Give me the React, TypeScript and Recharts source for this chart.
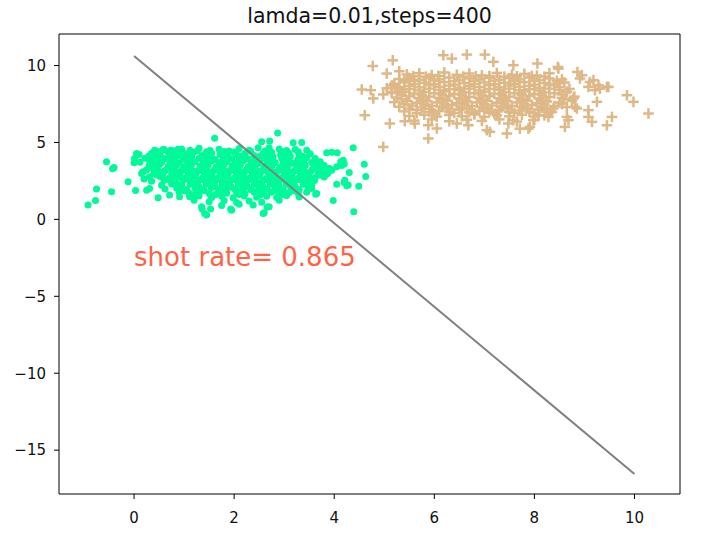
import React from "react";
import {
  ScatterChart,
  Scatter,
  XAxis,
  YAxis,
  ReferenceDot,
  ReferenceLine,
} from "recharts";

// class 0 (green dots): scattered outer points, then the dense body
const greenOuter: [number, number][] = [
  [-0.92, 0.93], [-0.77, 1.23], [-0.75, 1.97], [-0.55, 3.74], [-0.43, 3.29], [-0.4, 3.38],
  [-0.45, 1.79], [-0.12, 2.44], [0.03, 1.88], [0.05, 4.28], [0.0, 3.68], [0.01, 3.96],
  [0.25, 1.9], [0.31, 2.01], [0.48, 1.4], [0.15, 2.99], [0.2, 2.62], [0.18, 3.09],
  [0.31, 2.77], [0.38, 4.18], [0.41, 4.5], [0.58, 4.54], [0.73, 4.5], [0.88, 4.56],
  [0.71, 1.58], [0.91, 1.47], [1.11, 1.47], [1.61, 5.28], [2.87, 5.62], [1.36, 0.67],
  [1.35, 0.82], [1.41, 0.39], [1.45, 0.28], [1.53, 0.67], [1.93, 0.67], [1.95, 0.6],
  [2.6, 0.43], [2.58, 0.39], [2.66, 0.8], [2.38, 0.93], [2.7, 0.82], [4.39, 0.5],
  [3.98, 1.23], [4.38, 4.65], [4.6, 3.59], [4.63, 2.79], [4.49, 2.16], [4.2, 2.39],
  [4.25, 2.18], [4.05, 2.29], [4.15, 3.5], [4.2, 3.6], [4.3, 3.05], [3.85, 4.33],
  [3.95, 4.36], [4.06, 4.33], [3.87, 3.0], [3.95, 3.2], [3.35, 5.0], [3.18, 4.98],
  [3.45, 4.5], [3.63, 1.64], [2.55, 5.04], [2.71, 5.1], [2.7, 4.65], [3.28, 4.39],
  [4.18, 3.85], [4.13, 3.74], [3.91, 3.31], [4.05, 3.42], [4.21, 2.55], [4.28, 2.23],
  [3.65, 1.69], [3.55, 2.0], [3.71, 3.31], [3.68, 2.88], [3.61, 2.55],
];

const greenBody: [number, number][] = [
  [0.42, 4.48], [0.6, 4.55], [0.78, 4.46], [0.95, 4.58], [1.12, 4.5], [1.3, 4.62], [1.52, 4.47], [1.7, 4.56],
  [1.9, 4.44], [2.1, 4.6], [2.3, 4.5], [2.48, 4.66], [2.62, 4.45], [2.9, 4.58], [3.05, 4.47], [3.22, 4.54],
  [0.1, 4.22], [0.35, 4.3], [0.52, 4.18], [0.7, 4.32], [0.86, 4.2], [1.0, 4.28], [1.18, 4.35], [1.36, 4.16],
  [1.55, 4.3], [1.72, 4.22], [1.88, 4.34], [2.05, 4.2], [2.22, 4.3], [2.4, 4.15], [2.58, 4.28], [2.75, 4.36],
  [2.93, 4.2], [3.1, 4.3], [3.3, 4.18], [3.52, 4.26],
  [0.22, 3.98], [0.45, 4.06], [0.62, 3.95], [0.8, 4.02], [0.98, 3.92], [1.15, 4.08], [1.3, 3.97], [1.45, 4.04],
  [1.62, 3.9], [1.78, 4.05], [1.95, 3.96], [2.12, 4.1], [2.28, 3.94], [2.45, 4.03], [2.6, 3.92], [2.78, 4.06],
  [2.95, 3.97], [3.12, 4.08], [3.28, 3.93], [3.45, 4.02], [3.62, 3.95],
  [0.12, 3.72], [0.38, 3.8], [0.55, 3.7], [0.72, 3.78], [0.9, 3.66], [1.05, 3.82], [1.22, 3.74], [1.38, 3.68],
  [1.55, 3.8], [1.7, 3.7], [1.86, 3.77], [2.02, 3.65], [2.18, 3.8], [2.35, 3.72], [2.5, 3.68], [2.66, 3.79],
  [2.82, 3.7], [3.0, 3.76], [3.18, 3.66], [3.35, 3.8], [3.55, 3.7], [3.72, 3.75],
  [0.3, 3.48], [0.5, 3.55], [0.68, 3.44], [0.85, 3.52], [1.0, 3.42], [1.15, 3.58], [1.32, 3.46], [1.48, 3.53],
  [1.64, 3.4], [1.8, 3.56], [1.96, 3.47], [2.12, 3.52], [2.28, 3.42], [2.44, 3.57], [2.6, 3.45], [2.76, 3.5],
  [2.92, 3.4], [3.08, 3.55], [3.25, 3.46], [3.42, 3.52], [3.6, 3.43], [3.8, 3.5],
  [0.25, 3.22], [0.45, 3.3], [0.62, 3.18], [0.8, 3.26], [0.96, 3.2], [1.12, 3.3], [1.28, 3.16], [1.44, 3.27],
  [1.6, 3.2], [1.76, 3.3], [1.92, 3.18], [2.08, 3.26], [2.24, 3.2], [2.4, 3.32], [2.56, 3.17], [2.72, 3.25],
  [2.88, 3.2], [3.04, 3.3], [3.2, 3.15], [3.38, 3.27], [3.55, 3.2], [3.75, 3.25], [3.9, 3.18],
  [0.4, 3.05], [0.58, 2.94], [0.75, 3.02], [0.92, 2.92], [1.08, 3.06], [1.24, 2.96], [1.4, 3.03],
  [1.56, 2.9], [1.72, 3.0], [1.88, 2.95], [2.04, 3.07], [2.2, 2.93], [2.36, 3.02], [2.52, 2.95], [2.68, 3.05],
  [2.84, 2.92], [3.0, 3.0], [3.16, 2.94], [3.32, 3.04], [3.5, 2.96], [3.68, 3.02], [3.85, 2.95],
  [0.52, 2.78], [0.7, 2.68], [0.88, 2.76], [1.04, 2.7], [1.2, 2.8], [1.36, 2.67], [1.52, 2.74],
  [1.68, 2.7], [1.84, 2.8], [2.0, 2.68], [2.16, 2.76], [2.32, 2.7], [2.48, 2.8], [2.64, 2.66], [2.8, 2.74],
  [2.96, 2.7], [3.12, 2.78], [3.28, 2.68], [3.45, 2.75], [3.62, 2.7], [3.8, 2.76],
  [0.35, 2.48], [0.6, 2.54], [0.8, 2.44], [0.98, 2.52], [1.14, 2.45], [1.3, 2.56], [1.46, 2.42], [1.62, 2.5],
  [1.78, 2.46], [1.94, 2.55], [2.1, 2.43], [2.26, 2.52], [2.42, 2.47], [2.58, 2.55], [2.74, 2.42], [2.9, 2.5],
  [3.06, 2.46], [3.22, 2.54], [3.4, 2.44], [3.58, 2.5],
  [0.55, 2.22], [0.75, 2.3], [0.95, 2.2], [1.12, 2.28], [1.28, 2.18], [1.44, 2.3], [1.6, 2.2], [1.76, 2.26],
  [1.92, 2.17], [2.08, 2.3], [2.24, 2.2], [2.4, 2.27], [2.56, 2.18], [2.72, 2.3], [2.88, 2.2], [3.04, 2.26],
  [3.2, 2.18], [3.38, 2.28], [3.55, 2.2],
  [0.62, 1.98], [0.85, 2.04], [1.05, 1.94], [1.22, 2.02], [1.38, 1.95], [1.54, 2.05], [1.7, 1.92], [1.86, 2.0],
  [2.02, 1.95], [2.18, 2.04], [2.34, 1.92], [2.5, 2.0], [2.66, 1.96], [2.82, 2.05], [2.98, 1.93], [3.14, 2.0],
  [3.3, 1.95], [3.48, 2.03],
  [0.9, 1.78], [1.1, 1.7], [1.3, 1.76], [1.5, 1.68], [1.68, 1.78], [1.85, 1.7], [2.05, 1.75],
  [2.22, 1.68], [2.4, 1.78], [2.58, 1.7], [2.75, 1.76], [2.92, 1.68], [3.1, 1.75], [3.28, 1.7], [3.45, 1.76],
  [1.3, 1.52], [1.55, 1.42], [1.75, 1.5], [1.98, 1.4], [2.2, 1.52], [2.45, 1.44], [2.65, 1.5],
  [2.85, 1.42], [3.05, 1.55], [3.3, 1.46],
  [1.2, 1.25], [1.5, 1.15], [1.8, 1.22], [2.05, 1.1], [2.3, 1.2], [2.55, 1.12], [2.9, 1.25],
  [1.75, 0.9], [2.1, 0.98],
];

// extra green points sitting between the body rows
const greenFill: [number, number][] = [
  [0.5, 4.4], [0.68, 4.42], [0.94, 4.38], [1.26, 4.44], [1.45, 4.4], [1.8, 4.41], [2.0, 4.38], [2.33, 4.43],
  [2.68, 4.4], [3.0, 4.42],
  [0.3, 4.14], [0.72, 4.1], [0.9, 4.15], [1.08, 4.12], [1.38, 4.1], [1.53, 4.16], [1.86, 4.12], [2.2, 4.14],
  [2.52, 4.1], [2.68, 4.16], [3.02, 4.12], [3.36, 4.1],
  [0.3, 3.86], [0.48, 3.9], [0.82, 3.88], [1.13, 3.86], [1.47, 3.9], [1.78, 3.85], [2.1, 3.9], [2.42, 3.86],
  [2.74, 3.9], [3.08, 3.86], [3.4, 3.9],
  [0.4, 3.6], [0.78, 3.64], [1.1, 3.62], [1.4, 3.6], [1.72, 3.65], [2.05, 3.6], [2.36, 3.64], [2.68, 3.6],
  [2.98, 3.63], [3.3, 3.6], [3.65, 3.62],
  [0.35, 3.38], [0.72, 3.35], [1.05, 3.38], [1.38, 3.36], [1.7, 3.38], [2.02, 3.35], [2.34, 3.38], [2.66, 3.36],
  [2.98, 3.38], [3.3, 3.35], [3.66, 3.37],
  [0.5, 3.12], [0.85, 3.1], [1.18, 3.14], [1.5, 3.1], [1.82, 3.13], [2.14, 3.1], [2.46, 3.14], [2.78, 3.1],
  [3.1, 3.12], [3.42, 3.1], [3.78, 3.12],
  [0.45, 2.88], [0.8, 2.85], [1.12, 2.88], [1.44, 2.86], [1.76, 2.88], [2.08, 2.85], [2.4, 2.88], [2.72, 2.86],
  [3.04, 2.88], [3.36, 2.85], [3.72, 2.88],
  [0.7, 2.6], [1.06, 2.63], [1.38, 2.6], [1.7, 2.62], [2.02, 2.6], [2.34, 2.63], [2.66, 2.6], [2.98, 2.62],
  [3.3, 2.6], [3.5, 2.62],
  [0.85, 2.36], [1.2, 2.38], [1.52, 2.35], [1.84, 2.38], [2.16, 2.36], [2.48, 2.38], [2.8, 2.35], [3.12, 2.38],
  [3.46, 2.36],
  [0.9, 2.12], [1.3, 2.1], [1.62, 2.13], [1.94, 2.1], [2.26, 2.12], [2.58, 2.1], [2.9, 2.13], [3.22, 2.1],
  [1.0, 1.86], [1.4, 1.88], [1.78, 1.85], [2.12, 1.88], [2.48, 1.86], [2.84, 1.88], [3.2, 1.86],
  [1.2, 1.62], [1.62, 1.6], [2.1, 1.62], [2.52, 1.6], [2.98, 1.62],
];

// class 1 (tan crosses)
const tanOuter: [number, number][] = [
  [4.77, 9.97], [5.17, 10.34], [5.05, 9.48], [5.3, 9.63], [4.55, 8.44], [4.73, 8.4], [4.78, 7.86],
  [4.98, 8.12], [5.15, 8.29], [4.61, 6.77], [5.11, 6.23], [5.41, 6.38], [5.61, 6.23], [5.88, 6.12],
  [6.05, 5.91], [5.88, 5.26], [4.98, 4.71], [6.18, 10.67], [6.35, 10.45], [6.65, 10.71], [7.01, 10.71],
  [7.18, 10.24], [5.25, 8.51], [5.38, 8.29], [5.51, 9.05], [7.11, 5.69], [7.45, 5.58], [6.45, 6.23],
  [6.68, 6.12], [7.58, 10.02], [8.06, 10.13], [8.48, 9.8], [8.47, 9.91], [8.86, 9.58], [8.95, 9.37],
  [8.91, 9.16], [9.11, 8.93], [9.18, 9.05], [9.28, 8.72], [9.45, 8.61], [9.48, 8.61], [9.08, 8.61],
  [9.21, 8.4], [9.31, 8.5], [9.85, 8.07], [9.98, 7.64], [10.28, 6.88], [9.55, 6.66], [9.45, 6.12],
  [9.25, 7.64], [9.08, 7.1], [9.08, 6.66], [9.15, 6.34], [8.78, 7.86], [8.85, 7.21], [8.81, 7.31],
  [8.65, 6.66], [8.68, 6.45], [8.61, 6.01], [8.31, 6.99], [8.38, 7.21], [8.28, 6.66], [7.91, 6.01],
  [7.71, 5.9], [7.88, 5.9], [7.98, 6.45], [8.08, 6.77], [7.58, 6.45], [7.48, 6.23], [7.05, 5.8],
];

const tanBody: [number, number][] = [
  [5.45, 9.42], [5.7, 9.5], [5.95, 9.38], [6.2, 9.55], [6.45, 9.4], [6.7, 9.48], [6.95, 9.36], [7.25, 9.52],
  [7.55, 9.4], [7.8, 9.46], [8.05, 9.35], [8.3, 9.5],
  [5.3, 9.12], [5.5, 9.2], [5.7, 9.08], [5.9, 9.18], [6.1, 9.1], [6.3, 9.22], [6.5, 9.06], [6.7, 9.16],
  [6.9, 9.1], [7.1, 9.2], [7.3, 9.08], [7.5, 9.18], [7.7, 9.1], [7.9, 9.22], [8.1, 9.06], [8.3, 9.16], [8.55, 9.1],
  [5.2, 8.82], [5.4, 8.9], [5.6, 8.78], [5.8, 8.88], [6.0, 8.8], [6.2, 8.92], [6.4, 8.76], [6.6, 8.86],
  [6.8, 8.8], [7.0, 8.9], [7.2, 8.78], [7.4, 8.88], [7.6, 8.8], [7.8, 8.92], [8.0, 8.76], [8.2, 8.86],
  [8.4, 8.8], [8.6, 8.9],
  [5.05, 8.52], [5.3, 8.6], [5.5, 8.48], [5.7, 8.58], [5.9, 8.5], [6.1, 8.62], [6.3, 8.46], [6.5, 8.56],
  [6.7, 8.5], [6.9, 8.6], [7.1, 8.48], [7.3, 8.58], [7.5, 8.5], [7.7, 8.62], [7.9, 8.46], [8.1, 8.56],
  [8.3, 8.5], [8.5, 8.6], [8.7, 8.48],
  [5.15, 8.22], [5.4, 8.3], [5.6, 8.18], [5.8, 8.28], [6.0, 8.2], [6.2, 8.32], [6.4, 8.16], [6.6, 8.26],
  [6.8, 8.2], [7.0, 8.3], [7.2, 8.18], [7.4, 8.28], [7.6, 8.2], [7.8, 8.32], [8.0, 8.16], [8.2, 8.26],
  [8.4, 8.2], [8.65, 8.3],
  [5.25, 7.92], [5.5, 8.0], [5.7, 7.88], [5.9, 7.98], [6.1, 7.9], [6.3, 8.02], [6.5, 7.86], [6.7, 7.96],
  [6.9, 7.9], [7.1, 8.0], [7.3, 7.88], [7.5, 7.98], [7.7, 7.9], [7.9, 8.02], [8.1, 7.86], [8.3, 7.96],
  [8.55, 7.9], [8.8, 7.98],
  [5.2, 7.62], [5.45, 7.7], [5.65, 7.58], [5.85, 7.68], [6.05, 7.6], [6.25, 7.72], [6.45, 7.56], [6.65, 7.66],
  [6.85, 7.6], [7.05, 7.7], [7.25, 7.58], [7.45, 7.68], [7.65, 7.6], [7.85, 7.72], [8.05, 7.56], [8.25, 7.66],
  [8.5, 7.6], [8.75, 7.7],
  [5.3, 7.32], [5.55, 7.4], [5.75, 7.28], [5.95, 7.38], [6.15, 7.3], [6.35, 7.42], [6.55, 7.26], [6.75, 7.36],
  [6.95, 7.3], [7.15, 7.4], [7.35, 7.28], [7.55, 7.38], [7.75, 7.3], [7.95, 7.42], [8.15, 7.26], [8.4, 7.36],
  [8.65, 7.3],
  [5.4, 7.02], [5.65, 7.1], [5.9, 6.98], [6.1, 7.08], [6.3, 7.0], [6.5, 7.12], [6.7, 6.96], [6.9, 7.06],
  [7.1, 7.0], [7.3, 7.1], [7.5, 6.98], [7.7, 7.08], [7.9, 7.0], [8.1, 7.1], [8.35, 6.98],
  [5.5, 6.72], [5.8, 6.8], [6.05, 6.68], [6.3, 6.78], [6.55, 6.7], [6.8, 6.82], [7.0, 6.66], [7.25, 6.76],
  [7.5, 6.7], [7.75, 6.8], [8.0, 6.68], [8.2, 6.76],
  [5.6, 6.42], [5.95, 6.5], [6.3, 6.38], [6.65, 6.48], [6.95, 6.4], [7.3, 6.5], [7.65, 6.36], [8.0, 6.46],
];

// extra tan points between the body rows
const tanFill: [number, number][] = [
  [5.58, 9.3], [5.83, 9.28], [6.08, 9.32], [6.58, 9.28], [6.83, 9.3], [7.1, 9.32], [7.4, 9.28], [7.65, 9.3],
  [7.95, 9.32], [8.2, 9.28],
  [5.4, 9.0], [5.6, 8.98], [6.0, 9.02], [6.4, 8.98], [6.8, 9.0], [7.2, 9.02], [7.6, 8.98], [8.0, 9.0], [8.45, 9.0],
  [5.15, 8.7], [5.5, 8.68], [5.9, 8.72], [6.3, 8.7], [6.7, 8.68], [7.1, 8.72], [7.5, 8.7], [7.9, 8.68], [8.3, 8.72],
  [5.3, 8.4], [5.7, 8.38], [6.1, 8.42], [6.5, 8.4], [6.9, 8.38], [7.3, 8.42], [7.7, 8.4], [8.1, 8.38], [8.5, 8.42],
  [5.35, 8.1], [5.75, 8.08], [6.15, 8.12], [6.55, 8.1], [6.95, 8.08], [7.35, 8.12], [7.75, 8.1], [8.15, 8.08],
  [8.55, 8.12],
  [5.35, 7.8], [5.75, 7.78], [6.15, 7.82], [6.55, 7.8], [6.95, 7.78], [7.35, 7.82], [7.75, 7.8], [8.15, 7.78],
  [8.6, 7.82],
  [5.4, 7.5], [5.8, 7.48], [6.2, 7.52], [6.6, 7.5], [7.0, 7.48], [7.4, 7.52], [7.8, 7.5], [8.2, 7.48], [8.55, 7.5],
  [5.5, 7.2], [5.9, 7.18], [6.25, 7.22], [6.65, 7.2], [7.05, 7.18], [7.45, 7.22], [7.85, 7.2], [8.25, 7.18],
  [5.65, 6.9], [6.0, 6.88], [6.4, 6.92], [6.8, 6.9], [7.2, 6.88], [7.6, 6.92], [8.0, 6.9],
];

// fitted decision boundary, end points
const boundaryX = [0, 10];
const boundaryY = [10.62, -16.55];

const xTicks = [0, 2, 4, 6, 8, 10];
const yTicks = [-15, -10, -5, 0, 5, 10];
const xDomain = [-1.5, 10.91];
const yDomain = [-17.85, 12.05];

const title = "lamda=0.01,steps=400";
const shotRate = 0.865;

const toPoints = (arr: [number, number][]) => arr.map(([x, y]) => ({ x, y }));
const greenData = toPoints([...greenOuter, ...greenBody, ...greenFill]);
const tanData = toPoints([...tanOuter, ...tanBody, ...tanFill]);
const lineData = boundaryX.map((x, i) => ({ x, y: boundaryY[i] }));

const FONT = "'DejaVu Sans', sans-serif";
const GREEN = "#00fa9a";
const TAN = "#deb887";

const minusFmt = (v: number) => (v < 0 ? `\u2212${Math.abs(v)}` : String(v));

const Dot = (p: any) => <circle cx={p.cx} cy={p.cy} r={3.5} fill={GREEN} />;

const Cross = (p: any) => (
  <g stroke={TAN} strokeWidth={2.5}>
    <line x1={p.cx - 5.3} x2={p.cx + 5.3} y1={p.cy} y2={p.cy} />
    <line x1={p.cx} x2={p.cx} y1={p.cy - 5.3} y2={p.cy + 5.3} />
  </g>
);

const tickStyle = { fontFamily: FONT, fontSize: 15, fill: "#111" };

export default function App() {
  return (
    <div style={{ position: "absolute", left: 0, top: 0, width: 706, height: 539, background: "#fff" }}>
      <svg width={706} height={34} style={{ position: "absolute", left: 0, top: 0 }}>
        <text x={369.5} y={22.5} textAnchor="middle" fontFamily={FONT} fontSize={20.5} fill="#111">
          {title}
        </text>
      </svg>
      <ScatterChart width={706} height={539} margin={{ top: 34, right: 26, bottom: 0, left: 0 }}>
        <XAxis
          type="number"
          dataKey="x"
          domain={xDomain}
          ticks={xTicks}
          allowDataOverflow
          height={45}
          stroke="#000"
          tickSize={5}
          tickMargin={13}
          tick={tickStyle}
        />
        <YAxis
          type="number"
          dataKey="y"
          domain={yDomain}
          ticks={yTicks}
          allowDataOverflow
          width={59}
          stroke="#000"
          tickSize={5}
          tickMargin={8}
          tick={tickStyle}
          tickFormatter={minusFmt}
        />
        <ReferenceLine y={yDomain[1]} stroke="#000" strokeWidth={1} />
        <ReferenceLine x={xDomain[1]} stroke="#000" strokeWidth={1} />
        <Scatter data={greenData} shape={Dot} isAnimationActive={false} />
        <Scatter data={tanData} shape={Cross} isAnimationActive={false} />
        <Scatter
          data={lineData}
          line={{ stroke: "#808080", strokeWidth: 2 }}
          shape={() => <g />}
          isAnimationActive={false}
        />
        <ReferenceDot
          x={0}
          y={-3}
          r={0}
          shape={(p: any) => (
            <text x={p.cx} y={p.cy} fontFamily={FONT} fontSize={26} fill="#ff6347">
              {`shot rate= ${shotRate}`}
            </text>
          )}
        />
      </ScatterChart>
    </div>
  );
}
